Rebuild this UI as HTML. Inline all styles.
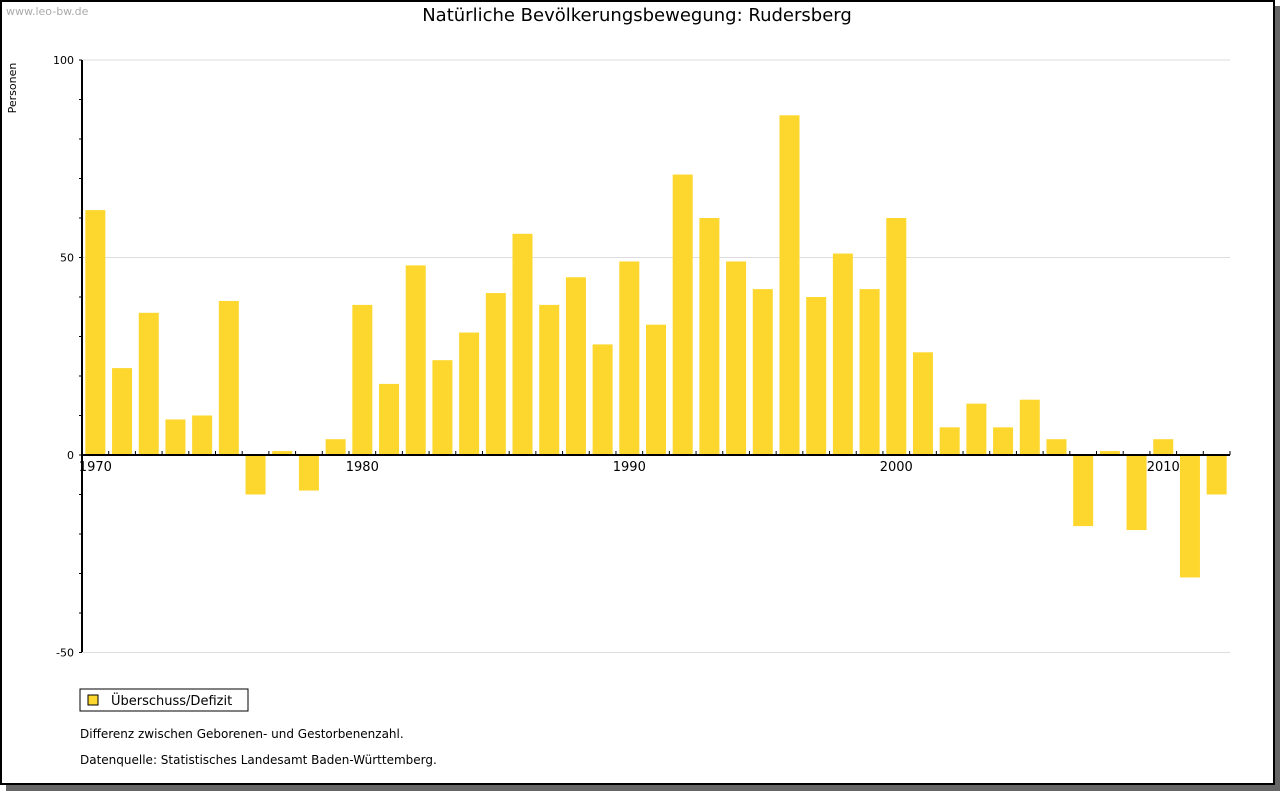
<!DOCTYPE html>
<html><head><meta charset="utf-8"><style>
body{margin:0;background:#fff;width:1280px;height:791px;overflow:hidden;font-family:"DejaVu Sans","Liberation Sans",sans-serif}
</style></head><body>
<svg width="1280" height="791" xmlns="http://www.w3.org/2000/svg" font-family="DejaVu Sans, Liberation Sans, sans-serif">
<rect x="6" y="6" width="1274" height="785" fill="#666"/>
<rect x="1" y="1" width="1273" height="783" fill="#fff" stroke="#000" stroke-width="2"/>
<text x="6" y="15" font-size="11" fill="#aaa">www.leo-bw.de</text>
<text x="637" y="21" font-size="18" text-anchor="middle">Natürliche Bevölkerungsbewegung: Rudersberg</text>
<text transform="translate(16,88) rotate(-90)" font-size="11" text-anchor="middle">Personen</text>
<g id="plot"></g>
<rect x="80" y="689" width="168" height="22" fill="#fff" stroke="#000"/>
<rect x="88" y="695" width="10" height="10" fill="#fdd72d" stroke="#000"/>
<text x="111" y="705" font-size="13">Überschuss/Defizit</text>
<text x="80" y="738" font-size="12">Differenz zwischen Geborenen- und Gestorbenenzahl.</text>
<text x="80" y="764" font-size="12">Datenquelle: Statistisches Landesamt Baden-Württemberg.</text>
</svg>
<script>
const years=[1970,1971,1972,1973,1974,1975,1976,1977,1978,1979,1980,1981,1982,1983,1984,1985,1986,1987,1988,1989,1990,1991,1992,1993,1994,1995,1996,1997,1998,1999,2000,2001,2002,2003,2004,2005,2006,2007,2008,2009,2010,2011,2012];
const values=[62,22,36,9,10,39,-10,1,-9,4,38,18,48,24,31,41,56,38,45,28,49,33,71,60,49,42,86,40,51,42,60,26,7,13,7,14,4,-18,1,-19,4,-31,-10];
const yTicks=[100,50,0,-50];
const xLabels=[1970,1980,1990,2000,2010];
const NS="http://www.w3.org/2000/svg";
const g=document.getElementById('plot');
const x0=82,x1=1230,slot=(x1-x0)/years.length;
const y=v=>455-v*3.95;
const xc=i=>x0+slot*(i+0.5);
function mk(t,a){const e=document.createElementNS(NS,t);for(const k in a)e.setAttribute(k,a[k]);g.appendChild(e);return e;}
yTicks.forEach(v=>{
 const l=mk('line',{x1:x0,x2:x1,y1:y(v),y2:y(v),stroke:'#ddd'});
 
 
 const t=mk('text',{x:74,y:y(v)+4,'font-size':11,'text-anchor':'end'});t.textContent=v;
 
 
});
for(let v=-50;v<=100;v+=10){mk('line',{x1:x0-3,x2:x0,y1:y(v),y2:y(v),stroke:'#000'});}
values.forEach((v,i)=>{
 const b=mk('rect',{x:xc(i)-10,width:20,y:Math.min(y(v),y(0)),height:Math.abs(y(v)-y(0)),fill:'#fdd72d'});
 
 
});
const ax=mk('line',{x1:x0,x2:x1,y1:y(0),y2:y(0),stroke:'#000','stroke-width':2});


const ay=mk('line',{x1:x0,x2:x0,y1:60,y2:652,stroke:'#000','stroke-width':2});


for(let i=1;i<=years.length;i++){mk('line',{x1:x0+slot*i,x2:x0+slot*i,y1:y(0)-4,y2:y(0),stroke:'#000'});}
xLabels.forEach(yr=>{
 const i=years.indexOf(yr);
 const t=mk('text',{x:xc(i),y:471,'font-size':13,'text-anchor':'middle'});t.textContent=yr;
 
 
});
</script>
</body></html>
